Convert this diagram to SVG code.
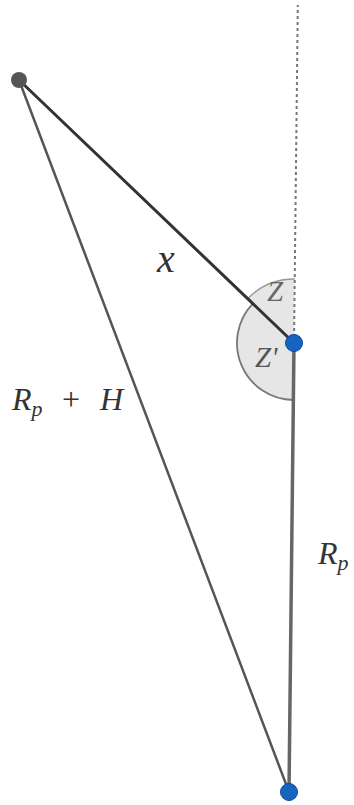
<svg xmlns="http://www.w3.org/2000/svg" width="354" height="805" viewBox="0 0 354 805">
<style>
.lbl{font-family:"Liberation Serif","Times New Roman",serif;font-style:italic;fill:#333}
.sub{font-size:22px}
.arc{fill:#e6e6e6;stroke:#777;stroke-width:1.8}
.pt{fill:#1565c0;stroke:#0d47a1;stroke-width:1}
</style>
<rect width="354" height="805" fill="#fff"/>
<g id="angles">
<path class="arc" d="M294 343 L294.7 279 A64 64 0 0 0 247.7 298.8 Z" style="stroke:none"/>
<path class="arc" d="M294.7 279 A64 64 0 0 0 247.7 298.8" style="fill:none;stroke:#999;stroke-width:1.5"/>
<path class="arc" d="M294 343 L252.8 303.6 A57 57 0 0 0 293.4 400 Z" style="stroke:none"/>
<path class="arc" d="M252.8 303.6 A57 57 0 0 0 293.4 400" style="fill:none"/>
</g>
<g id="connectors" fill="none" stroke-linecap="round">
<line x1="294" y1="343" x2="297.8" y2="5" stroke="#777" stroke-width="2" stroke-dasharray="3 3" stroke-linecap="butt"/>
<line x1="294" y1="343" x2="289" y2="792" stroke="#666" stroke-width="3.5"/>
<line x1="19" y1="80" x2="289" y2="792" stroke="#555" stroke-width="2.5"/>
<line x1="19" y1="80" x2="294" y2="343" stroke="#333" stroke-width="3"/>
</g>
<g id="pointA"><circle cx="19" cy="80" r="8" fill="#555"/></g>
<g id="pointB"><circle class="pt" cx="294" cy="343" r="8.5"/></g>
<g id="pointC"><circle class="pt" cx="289" cy="792" r="8.5"/></g>
<g id="labels">
<text class="lbl" x="157" y="272" font-size="40">x</text>
<text class="lbl" x="267" y="301" font-size="29" style="fill:#666">Z</text>
<text class="lbl" x="255" y="367" font-size="29" style="fill:#555">Z'</text>
<text class="lbl" x="12" y="410" font-size="32">R<tspan class="sub" dy="6">p</tspan></text>
<text class="lbl" x="62" y="410" font-size="32" style="font-style:normal">+</text>
<text class="lbl" x="100" y="410" font-size="32">H</text>
<text class="lbl" x="318" y="564" font-size="32">R<tspan class="sub" dy="6">p</tspan></text>
</g>
</svg>
